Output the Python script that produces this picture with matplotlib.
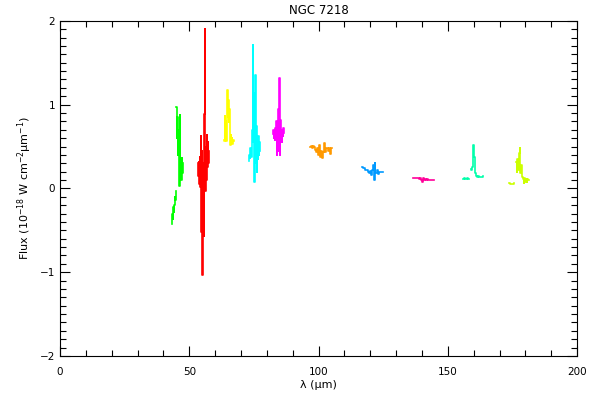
import numpy as np
import matplotlib
matplotlib.use('Agg')
import matplotlib.pyplot as plt
from matplotlib.ticker import MultipleLocator

# Segmentos espectrales (lambda en micras, flujo en 1e-18 W cm-2 um-1)
green_lam_a = [43.3, 43.5, 43.7, 43.9, 44.1, 44.3, 44.5, 44.7, 44.9]
green_flux_a = [-0.43, -0.30, -0.36, -0.22, -0.28, -0.20, -0.10, -0.14, -0.03]
green_lam_b = [45.0, 45.2, 45.4, 45.6, 45.8, 46.0, 46.2, 46.4, 46.6, 46.8, 47.0, 47.2, 47.4, 47.6]
green_flux_b = [0.97, 0.60, 0.85, 0.40, 0.70, 0.38, 0.03, 0.88, 0.15, 0.30, 0.10, 0.36, 0.18, 0.30]

red_lam = [53.4, 53.6, 53.8, 54.0, 54.2, 54.4, 54.6, 54.8, 55.0, 55.2, 55.4,
           55.6, 55.8, 56.0, 56.2, 56.4, 56.6, 56.8, 57.0, 57.2, 57.4, 57.6]
red_flux = [0.30, 0.15, 0.32, 0.05, 0.38, 0.02, 0.63, -0.52, 0.45, -1.03, 0.30,
            -0.57, 0.89, 1.90, -0.03, 0.49, 0.10, 0.64, 0.26, 0.55, 0.30, 0.45]

yellow_lam = [63.4, 63.6, 63.8, 64.0, 64.2, 64.4, 64.6, 64.8, 65.0, 65.2,
              65.4, 65.6, 65.8, 66.0, 66.2, 66.4, 66.6, 66.8, 67.0, 67.2]
yellow_flux = [0.58, 0.56, 0.86, 0.60, 0.80, 0.56, 0.95, 1.17, 0.85, 1.05,
               0.79, 0.95, 0.65, 0.52, 0.64, 0.55, 0.60, 0.53, 0.58, 0.56]

cyan_lam = [73.1, 73.3, 73.5, 73.7, 73.9, 74.1, 74.3, 74.5, 74.7, 74.9, 75.1,
            75.3, 75.5, 75.7, 75.9, 76.1, 76.3, 76.5, 76.7, 76.9, 77.1, 77.3]
cyan_flux = [0.33, 0.40, 0.36, 0.48, 0.40, 0.38, 0.45, 0.70, 1.71, 0.55, 1.14,
             0.08, 1.35, 0.30, 0.75, 0.20, 0.55, 0.35, 0.62, 0.40, 0.55, 0.45]

magenta_lam = [82.4, 82.6, 82.8, 83.0, 83.2, 83.4, 83.6, 83.8, 84.0, 84.2, 84.4,
               84.6, 84.8, 85.0, 85.2, 85.4, 85.6, 85.8, 86.0, 86.2, 86.4, 86.6]
magenta_flux = [0.65, 0.70, 0.60, 0.66, 0.58, 0.72, 0.62, 0.80, 0.40, 0.78, 0.95,
                0.45, 1.32, 0.40, 0.82, 0.60, 0.70, 0.55, 0.68, 0.62, 0.72, 0.66]

orange_lam = [96.7, 97.1, 97.5, 97.9, 98.3, 98.7, 99.1, 99.5, 99.9, 100.3, 100.7,
              101.1, 101.5, 101.9, 102.3, 102.7, 103.1, 103.5, 103.9, 104.3, 104.7, 105.1]
orange_flux = [0.50, 0.51, 0.48, 0.51, 0.50, 0.46, 0.44, 0.48, 0.40, 0.52, 0.38,
               0.45, 0.36, 0.43, 0.54, 0.44, 0.48, 0.48, 0.45, 0.48, 0.41, 0.48]

blue_lam = [116.8, 117.2, 117.6, 118.0, 118.4, 118.8, 119.2, 119.6, 120.0, 120.4, 120.8,
            121.2, 121.5, 121.8, 122.2, 122.6, 123.0, 123.4, 123.8, 124.2, 124.6, 125.0]
blue_flux = [0.25, 0.24, 0.24, 0.22, 0.22, 0.22, 0.20, 0.18, 0.21, 0.16, 0.22,
             0.28, 0.10, 0.30, 0.18, 0.22, 0.17, 0.19, 0.19, 0.19, 0.19, 0.19]

pink_lam = [136.6, 137.0, 137.4, 137.8, 138.2, 138.6, 139.0, 139.4, 139.8, 140.2, 140.6,
            141.0, 141.4, 141.8, 142.2, 142.6, 143.0, 143.4, 143.8, 144.2, 144.6]
pink_flux = [0.13, 0.13, 0.13, 0.13, 0.13, 0.12, 0.11, 0.12, 0.10, 0.08, 0.12,
             0.10, 0.11, 0.10, 0.11, 0.10, 0.10, 0.10, 0.10, 0.10, 0.10]

aqua_lam_a = [156.0, 156.4, 156.8, 157.2, 157.6, 158.0]
aqua_flux_a = [0.11, 0.12, 0.11, 0.11, 0.12, 0.11]
aqua_lam_b = [158.8, 159.2, 159.6, 159.9, 160.2, 160.5, 160.8, 161.2, 161.6,
              162.0, 162.4, 162.8, 163.2, 163.6]
aqua_flux_b = [0.23, 0.22, 0.26, 0.52, 0.38, 0.21, 0.18, 0.15, 0.14,
               0.15, 0.14, 0.14, 0.14, 0.15]

lime_lam_a = [173.7, 174.1, 174.5, 174.9, 175.3, 175.7]
lime_flux_a = [0.06, 0.05, 0.05, 0.05, 0.05, 0.06]
lime_lam_b = [176.4, 176.7, 177.0, 177.3, 177.6, 177.9, 178.2, 178.5, 178.8, 179.1,
              179.4, 179.7, 180.0, 180.3, 180.6, 180.9, 181.2]
lime_flux_b = [0.32, 0.20, 0.35, 0.22, 0.42, 0.48, 0.18, 0.28, 0.14, 0.11,
               0.06, 0.12, 0.08, 0.11, 0.08, 0.11, 0.10]

segments = [
    (green_lam_a, green_flux_a, '#00ff00'),
    (green_lam_b, green_flux_b, '#00ff00'),
    (red_lam, red_flux, '#ff0000'),
    (yellow_lam, yellow_flux, '#ffff00'),
    (cyan_lam, cyan_flux, '#00ffff'),
    (magenta_lam, magenta_flux, '#ff00ff'),
    (orange_lam, orange_flux, '#ff9900'),
    (blue_lam, blue_flux, '#0099ff'),
    (pink_lam, pink_flux, '#ff0099'),
    (aqua_lam_a, aqua_flux_a, '#00ffaa'),
    (aqua_lam_b, aqua_flux_b, '#00ffaa'),
    (lime_lam_a, lime_flux_a, '#ccff00'),
    (lime_lam_b, lime_flux_b, '#ccff00'),
]

plt.rcParams['font.family'] = ['DejaVu Sans']
fig = plt.figure(figsize=(6, 4), dpi=100)
ax = fig.add_axes([0.1, 0.11, 0.862, 0.838])

for lam, flux, col in segments:
    ax.plot(lam, flux, color=col, lw=1.2, drawstyle='steps-mid')

ax.set_xlim(0, 200)
ax.set_ylim(-2, 2)
ax.xaxis.set_major_locator(MultipleLocator(50))
ax.xaxis.set_minor_locator(MultipleLocator(10))
ax.yaxis.set_major_locator(MultipleLocator(1))
ax.yaxis.set_minor_locator(MultipleLocator(0.1))
ax.tick_params(which='both', direction='in', top=True, right=True, labelsize=7.5, width=0.8)
ax.tick_params(which='major', length=7)
ax.tick_params(which='minor', length=4)
ax.tick_params(axis='x', pad=8)
ax.set_yticks([-2, -1, 0, 1, 2])
ax.set_yticklabels(['\u22122', '\u22121', '0', '1', '2'])

ax.set_title('NGC 7218', fontsize=8.5, pad=5)
ax.set_xlabel('\u03bb (\u03bcm)', fontsize=8, labelpad=2)
ax.set_ylabel('Flux (10$^{-18}$ W cm$^{-2}$\u03bcm$^{-1}$)', fontsize=8)

fig.savefig('out.png', dpi=100)
